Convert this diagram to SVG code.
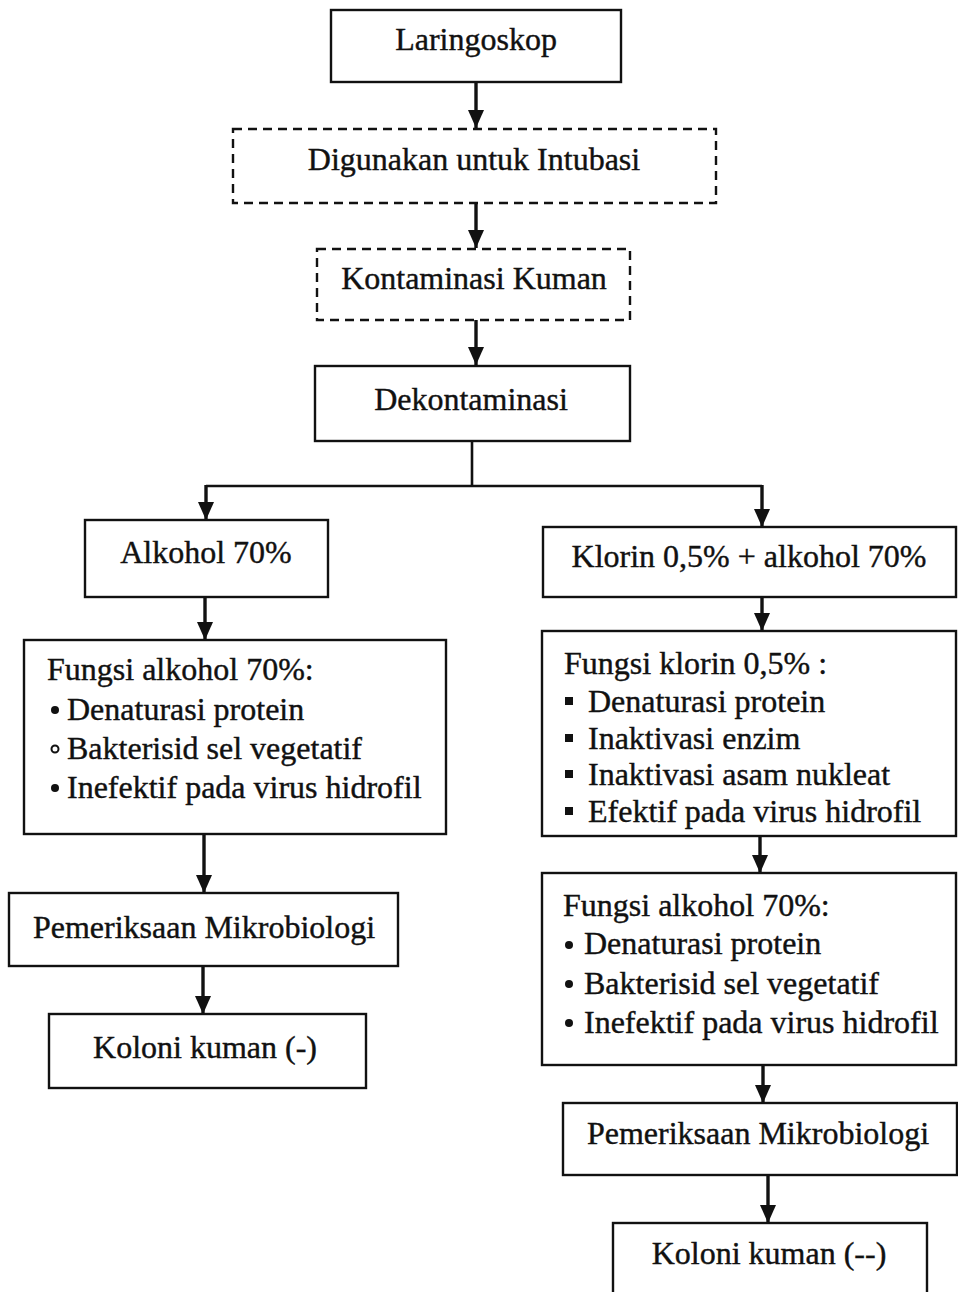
<svg xmlns="http://www.w3.org/2000/svg" width="958" height="1292" viewBox="0 0 958 1292">
<style>
  .box { fill: #fff; stroke: #111; stroke-width: 2.4; }
  .dash { fill: #fff; stroke: #111; stroke-width: 2.4; stroke-dasharray: 9 6; }
  .t { font-family: "Liberation Serif", "Times New Roman", serif; font-size: 32px; fill: #111; stroke: #111; stroke-width: 0.4; }
  .c { text-anchor: middle; }
  .ln { stroke: #111; stroke-width: 3.4; fill: none; }
  .ln2 { stroke: #111; stroke-width: 2.6; fill: none; }
  .bul { fill: #111; }
</style>
<defs>
  <marker id="ah" viewBox="0 0 18 16" refX="18" refY="8" markerWidth="18" markerHeight="16" markerUnits="userSpaceOnUse" orient="auto">
    <path d="M0,0 L18,8 L0,16 z" fill="#111"/>
  </marker>
</defs>
<rect width="958" height="1292" fill="#fff"/>

<g id="connectors">
  <line class="ln" x1="476" y1="82" x2="476" y2="128" marker-end="url(#ah)"/>
  <line class="ln" x1="476" y1="203" x2="476" y2="248" marker-end="url(#ah)"/>
  <line class="ln" x1="476" y1="320" x2="476" y2="365" marker-end="url(#ah)"/>
  <polyline class="ln2" points="472,441 472,486"/>
  <polyline class="ln2" points="206,486 762,486"/>
  <line class="ln" x1="206" y1="485" x2="206" y2="520" marker-end="url(#ah)"/>
  <line class="ln" x1="762" y1="485" x2="762" y2="527" marker-end="url(#ah)"/>
  <line class="ln" x1="205" y1="597" x2="205" y2="640" marker-end="url(#ah)"/>
  <line class="ln" x1="204" y1="834" x2="204" y2="893" marker-end="url(#ah)"/>
  <line class="ln" x1="203" y1="966" x2="203" y2="1014" marker-end="url(#ah)"/>
  <line class="ln" x1="762" y1="597" x2="762" y2="631" marker-end="url(#ah)"/>
  <line class="ln" x1="760" y1="836" x2="760" y2="873" marker-end="url(#ah)"/>
  <line class="ln" x1="763" y1="1065" x2="763" y2="1103" marker-end="url(#ah)"/>
  <line class="ln" x1="768" y1="1175" x2="768" y2="1223" marker-end="url(#ah)"/>
</g>

<g id="n-laringoskop">
  <rect class="box" x="331" y="10" width="290" height="72"/>
  <text class="t c" x="476" y="50">Laringoskop</text>
</g>
<g id="n-digunakan">
  <rect class="dash" x="233" y="129" width="483" height="74"/>
  <text class="t c" x="474" y="170">Digunakan untuk Intubasi</text>
</g>
<g id="n-kontaminasi">
  <rect class="dash" x="317" y="249" width="313" height="71"/>
  <text class="t c" x="474" y="289">Kontaminasi Kuman</text>
</g>
<g id="n-dekontaminasi">
  <rect class="box" x="315" y="366" width="315" height="75"/>
  <text class="t c" x="471" y="410">Dekontaminasi</text>
</g>
<g id="n-alkohol">
  <rect class="box" x="85" y="520" width="243" height="77"/>
  <text class="t c" x="206" y="563">Alkohol 70%</text>
</g>
<g id="n-klorin">
  <rect class="box" x="543" y="527" width="413" height="70"/>
  <text class="t c" x="749" y="567">Klorin 0,5% + alkohol 70%</text>
</g>
<g id="n-fungsi-alkohol-left">
  <rect class="box" x="24" y="640" width="422" height="194"/>
  <text class="t" x="47" y="680">Fungsi alkohol 70%:</text>
  <circle class="bul" cx="55" cy="710" r="4"/>
  <text class="t" x="67" y="720">Denaturasi protein</text>
  <circle cx="55" cy="749" r="3.5" fill="none" stroke="#111" stroke-width="2"/>
  <text class="t" x="67" y="759">Bakterisid sel vegetatif</text>
  <circle class="bul" cx="55" cy="788" r="4"/>
  <text class="t" x="67" y="798">Inefektif pada virus hidrofil</text>
</g>
<g id="n-fungsi-klorin">
  <rect class="box" x="542" y="631" width="414" height="205"/>
  <text class="t" x="564" y="674">Fungsi klorin 0,5% :</text>
  <rect class="bul" x="565" y="697" width="8" height="8"/>
  <text class="t" x="588" y="712">Denaturasi protein</text>
  <rect class="bul" x="565" y="734" width="8" height="8"/>
  <text class="t" x="588" y="749">Inaktivasi enzim</text>
  <rect class="bul" x="565" y="770" width="8" height="8"/>
  <text class="t" x="588" y="785">Inaktivasi asam nukleat</text>
  <rect class="bul" x="565" y="807" width="8" height="8"/>
  <text class="t" x="588" y="822">Efektif pada virus hidrofil</text>
</g>
<g id="n-fungsi-alkohol-right">
  <rect class="box" x="542" y="873" width="414" height="192"/>
  <text class="t" x="563" y="916">Fungsi alkohol 70%:</text>
  <circle class="bul" cx="569" cy="945" r="4"/>
  <text class="t" x="584" y="954">Denaturasi protein</text>
  <circle class="bul" cx="569" cy="984" r="4"/>
  <text class="t" x="584" y="994">Bakterisid sel vegetatif</text>
  <circle class="bul" cx="569" cy="1023" r="4"/>
  <text class="t" x="584" y="1033">Inefektif pada virus hidrofil</text>
</g>
<g id="n-pemeriksaan-left">
  <rect class="box" x="9" y="893" width="389" height="73"/>
  <text class="t c" x="204" y="938">Pemeriksaan Mikrobiologi</text>
</g>
<g id="n-koloni-left">
  <rect class="box" x="49" y="1014" width="317" height="74"/>
  <text class="t c" x="205" y="1058">Koloni kuman (-)</text>
</g>
<g id="n-pemeriksaan-right">
  <rect class="box" x="563" y="1103" width="394" height="72"/>
  <text class="t c" x="758" y="1144">Pemeriksaan Mikrobiologi</text>
</g>
<g id="n-koloni-right">
  <rect class="box" x="613" y="1223" width="314" height="90"/>
  <text class="t c" x="769" y="1264">Koloni kuman (--)</text>
</g>
</svg>
